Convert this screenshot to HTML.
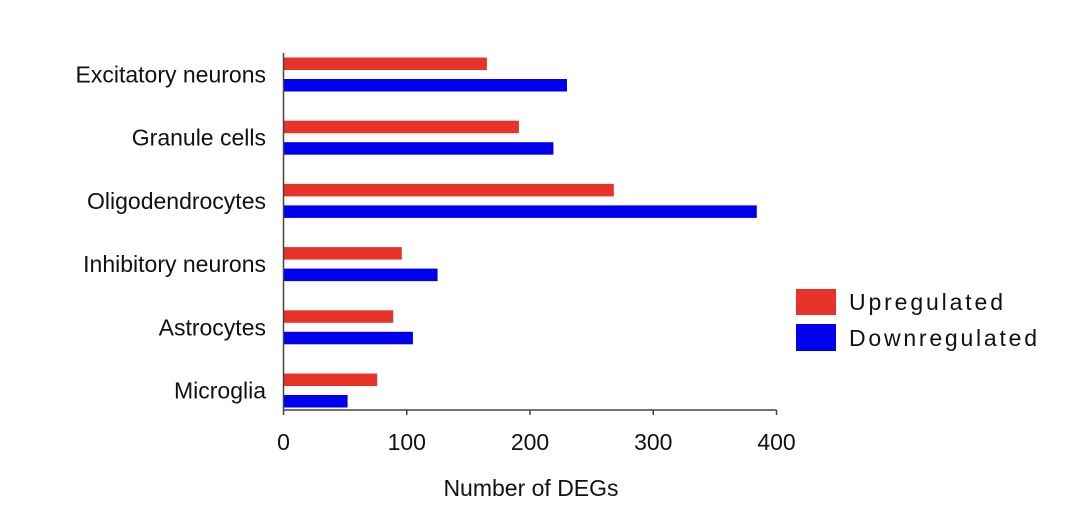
<!DOCTYPE html>
<html><head><meta charset="utf-8"><style>html,body{margin:0;padding:0;background:#fff}svg{display:block}text{font-family:"Liberation Sans",sans-serif;fill:#111}</style></head>
<body>
<svg id="chart" width="1080" height="514"></svg>
<script>
const categories=["Excitatory neurons","Granule cells","Oligodendrocytes","Inhibitory neurons","Astrocytes","Microglia"];
const upValues=[165,191,268,96,89,76];
const downValues=[230,219,384,125,105,52];
const xTicks=[0,100,200,300,400];
const NS="http://www.w3.org/2000/svg";
const svg=document.getElementById('chart');
const x0=283.5,x1=776.5,xMax=400,yAxis=410;
const xs=v=>x0+(x1-x0)*v/xMax;
const groupTop=i=>57.5+i*63.2;
const barH=12.5;
function mk(tag,attrs,parent){const e=document.createElementNS(NS,tag);for(const k in attrs)e.setAttribute(k,attrs[k]);(parent||svg).appendChild(e);return e;}
categories.forEach((c,i)=>{
  const r=mk('rect',{x:xs(0),y:groupTop(i),width:xs(upValues[i])-xs(0),height:barH,fill:'#e8332a'});
  
  
  const b=mk('rect',{x:xs(0),y:groupTop(i)+21.5,width:xs(downValues[i])-xs(0),height:barH,fill:'#0000ee'});
  
  
  const t=mk('text',{x:266,y:groupTop(i)+25,'text-anchor':'end','font-size':23});
  t.textContent=c;
  
  
});
const ya=mk('line',{x1:x0,y1:53,x2:x0,y2:yAxis,stroke:'#444','stroke-width':1.5});


const xa=mk('line',{x1:x0,y1:yAxis,x2:x1,y2:yAxis,stroke:'#444','stroke-width':1.5});


xTicks.forEach(v=>{
  const l=mk('line',{x1:xs(v),y1:yAxis,x2:xs(v),y2:yAxis+5,stroke:'#444','stroke-width':1.5});
  
  
  const t=mk('text',{x:xs(v),y:450,'text-anchor':'middle','font-size':23});
  t.textContent=v;
  
  
});
const xt=mk('text',{x:531,y:496,'text-anchor':'middle','font-size':23});
xt.textContent='Number of DEGs';


const lr=mk('rect',{x:796,y:289,width:40,height:26,fill:'#e8332a'});


const lb=mk('rect',{x:796,y:324,width:40,height:27,fill:'#0000ee'});


const t1=mk('text',{x:849,y:310,'font-size':23,textLength:154});
t1.textContent='Upregulated';


const t2=mk('text',{x:849,y:346,'font-size':23,textLength:188});
t2.textContent='Downregulated';


</script>
</body></html>
